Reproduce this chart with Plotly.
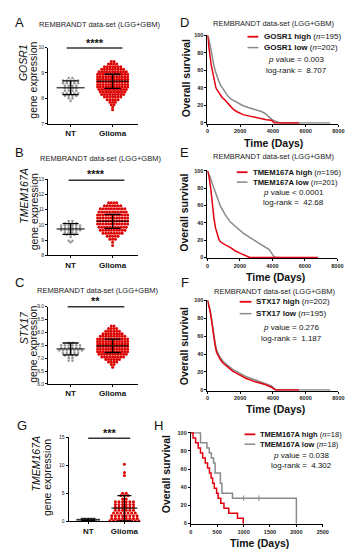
import plotly.graph_objects as go

W, H = 354, 550
FONT = "Liberation Sans, Arial, sans-serif"
RED_LINE = "#e3000f"
GREY_LINE = "#8a8a8a"
DOT_RED = "#dc0000"
DOT_GREY = "#9a9a9a"

categories = ["NT", "Glioma"]
TITLE = "REMBRANDT data-set (LGG+GBM)"

A_nt_levels = [7.9, 8.0, 8.1, 8.2, 8.3, 8.4, 8.5, 8.6, 8.7, 8.8]
A_nt_counts = [1, 2, 4, 5, 4, 4, 4, 5, 5, 2]
A_gl_levels = [7.55, 7.65, 7.75, 7.85, 7.95, 8.05, 8.15, 8.25, 8.35, 8.45,
               8.55, 8.65, 8.75, 8.85, 8.95, 9.05, 9.15, 9.25, 9.35, 9.45]
A_gl_counts = [1, 1, 2, 3, 5, 7, 9, 10, 11, 12, 12, 12, 12, 12, 12, 11, 9, 7, 4, 2]
A_mean = [8.42, 8.67]
A_sd = [0.27, 0.28]

B_nt_levels = [8.85, 8.95, 9.2, 9.35, 9.5, 9.65, 9.8, 9.95, 10.1, 10.25]
B_nt_counts = [1, 2, 1, 3, 4, 6, 6, 6, 4, 2]
B_gl_levels = [8.65, 8.85, 9.05, 9.25, 9.45, 9.65, 9.85, 10.05, 10.25, 10.45,
               10.65, 10.85, 11.05, 11.25, 11.45]
B_gl_counts = [1, 1, 3, 5, 8, 10, 11, 12, 12, 12, 12, 11, 10, 7, 4]
B_mean = [9.73, 10.23]
B_sd = [0.35, 0.46]

C_nt_levels = [6.9, 7.0, 7.1, 7.2, 7.3, 7.4, 7.5, 7.6]
C_nt_counts = [2, 2, 4, 5, 7, 6, 6, 2]
C_gl_levels = [6.65, 6.75, 6.85, 6.95, 7.05, 7.15, 7.25, 7.35, 7.45, 7.55,
               7.65, 7.75, 7.85, 7.95, 8.05, 8.15, 8.25]
C_gl_counts = [1, 2, 4, 6, 9, 11, 12, 12, 12, 12, 12, 12, 10, 8, 6, 4, 2]
C_mean = [7.36, 7.48]
C_sd = [0.23, 0.26]

G_nt_levels = [0.1, 0.3, 0.5]
G_nt_counts = [6, 8, 5]
G_gl_levels = [0.1, 0.5, 1.0, 1.5, 2.0, 2.5, 3.0, 3.5, 4.0, 4.6, 5.0, 8.2, 8.7, 10.2]
G_gl_counts = [9, 8, 8, 7, 6, 6, 6, 6, 2, 3, 2, 1, 1, 1]
G_mean = [0.3, 2.35]
G_sd = [0.15, 2.25]

# ---------------- Kaplan-Meier curves (days, % survival)
D_high_t = [0, 60, 120, 160, 240, 320, 400, 465, 520, 565, 650, 770, 900, 1070, 1200,
            1370, 1550, 1780, 2000, 2180, 2500, 2790, 3290, 3600, 3900, 4000, 4100, 5600]
D_high_s = [100, 93, 83, 76, 65, 57, 49, 43, 40, 38.5, 36, 32, 29, 26, 23,
            19, 16, 13, 11, 9.4, 8, 6.8, 4.5, 3.5, 3, 1, 0, 0]
D_low_t = [0, 80, 162, 240, 323, 400, 465, 560, 667, 800, 970, 1100, 1273, 1450, 1677,
           1900, 2180, 2500, 2790, 3000, 3290, 3500, 3700, 3850, 4000, 4200, 4400, 4450, 7500]
D_low_s = [100, 96, 89, 80, 72, 65, 60, 54, 49, 43, 38, 34, 30, 27, 24.5,
           22, 19.6, 17.5, 16, 15, 13, 11, 8, 5.5, 3, 1.5, 0.5, 0, 0]

E_high_t = [0, 100, 200, 300, 400, 500, 600, 700, 800, 950, 1100, 1400, 1700, 2000,
            2300, 2500, 2600, 6800]
E_high_s = [100, 93, 80, 60, 45, 34, 26, 21, 18, 16, 14.5, 11.5, 7.7, 5, 2.3, 0.8, 0, 0]
E_low_t = [0, 100, 200, 300, 400, 600, 800, 1100, 1400, 1800, 2200, 2600, 3000, 3400,
           3800, 3950, 4000, 4100, 4200, 4500]
E_low_s = [100, 96, 91, 85, 80, 68, 59, 49, 41, 34.5, 28, 23, 18, 14, 9, 5, 3, 0.8, 0, 0]

F_high_t = [0, 80, 158, 257, 356, 455, 553, 650, 750, 949, 1245, 1541, 1937, 2332,
            2925, 3518, 3913, 4050, 4150, 5600]
F_high_s = [100, 95, 88, 77, 62, 51, 42, 38, 35, 30, 25, 21, 17, 13, 9, 6, 3, 0.7, 0, 0]
F_low_t = [0, 80, 158, 257, 356, 455, 553, 650, 750, 949, 1245, 1541, 1937, 2332,
           2925, 3518, 3913, 4110, 4200, 7500]
F_low_s = [100, 96, 90, 79, 65, 54, 45, 40, 37, 32, 27, 23, 19, 15, 11, 7.5, 4.5, 1, 0, 0]

H_high_t = [0, 43, 91, 140, 183, 225, 274, 317, 353, 384, 414, 445, 488, 518, 567,
            628, 719, 884, 993]
H_high_s = [100, 94.4, 88.9, 83.3, 77.8, 72.2, 66.7, 61.1, 55.6, 50.0, 44.4, 38.9,
            33.3, 27.8, 22.2, 16.7, 11.1, 5.6, 0]
H_low_t = [0, 183, 305, 350, 390, 430, 460, 560, 590, 790, 2000]
H_low_s = [100, 88.9, 83.3, 77.8, 72.2, 66.7, 55.6, 44.4, 33.3, 27.8, 0]
H_low_censor_t = [1000, 1290]
H_low_censor_s = [27.8, 27.8]

fig = go.Figure()
axes = {}
annotations = []
shapes = []


def ax_names(i):
    return ("x" if i == 1 else f"x{i}"), ("y" if i == 1 else f"y{i}")


def add_axes(i, x0, x1, ytop, ybot, xr, yr, xkw, ykw):
    xn, yn = ax_names(i)
    base = dict(showline=True, linecolor="black", linewidth=1, ticks="outside",
                ticklen=2, tickwidth=1, tickcolor="black", showgrid=False,
                zeroline=False, fixedrange=True)
    xa = dict(base, domain=[x0 / W, x1 / W], range=xr, anchor=yn)
    xa.update(xkw)
    ya = dict(base, domain=[1 - ybot / H, 1 - ytop / H], range=yr, anchor=xn)
    ya.update(ykw)
    axes["xaxis" if i == 1 else f"xaxis{i}"] = xa
    axes["yaxis" if i == 1 else f"yaxis{i}"] = ya


def ann(text, x, y, size, color="#111", xanchor="center", angle=0, **kw):
    annotations.append(dict(text=text, x=x / W, y=1 - y / H, xref="paper", yref="paper",
                            showarrow=False, xanchor=xanchor, yanchor="middle",
                            textangle=angle, font=dict(size=size, color=color, family=FONT),
                            **kw))


def hline(x0, x1, y, color="black", width=1.2):
    shapes.append(dict(type="line", xref="paper", yref="paper", x0=x0 / W, x1=x1 / W,
                       y0=1 - y / H, y1=1 - y / H, line=dict(color=color, width=width)))


def swarm(levels, counts, center, dx):
    xs, ys = [], []
    for lv, n in zip(levels, counts):
        for j in range(n):
            xs.append(center + (j - (n - 1) / 2) * dx)
            ys.append(lv)
    return xs, ys


def dot_panel(i, nt_lv, nt_ct, gl_lv, gl_ct, means, sds, dx_nt, dx_gl, mean_len, cap):
    xn, yn = ax_names(i)
    x, y = swarm(nt_lv, nt_ct, 0, dx_nt)
    fig.add_trace(go.Scatter(x=x, y=y, mode="markers", xaxis=xn, yaxis=yn, cliponaxis=False,
                             marker=dict(size=2.6, color=DOT_GREY), hoverinfo="skip"))
    x, y = swarm(gl_lv, gl_ct, 1, dx_gl)
    fig.add_trace(go.Scatter(x=x, y=y, mode="markers", xaxis=xn, yaxis=yn, cliponaxis=False,
                             marker=dict(size=3.0, color=DOT_RED), hoverinfo="skip"))
    # line-ew symbol length is 1.4 x marker size
    fig.add_trace(go.Scatter(x=[0, 1], y=means, mode="markers", xaxis=xn, yaxis=yn,
                             cliponaxis=False,
                             marker=dict(symbol="line-ew", size=[m / 1.4 for m in mean_len],
                                         color="black", line=dict(width=1.5, color="black")),
                             error_y=dict(type="data", array=sds, visible=True, color="black",
                                          thickness=1.3, width=cap),
                             hoverinfo="skip"))


def km_panel(i, curves):
    xn, yn = ax_names(i)
    for t, s, col, shape in curves:
        fig.add_trace(go.Scatter(x=t, y=s, mode="lines", xaxis=xn, yaxis=yn,
                                 line=dict(color=col, width=1.5, shape=shape),
                                 hoverinfo="skip"))


tickfont_small = dict(size=5, color="#222", family=FONT)
tickfont_km = dict(size=5.5, color="#222", family=FONT, weight="bold")
cat_font = dict(size=8, color="#111", family=FONT, weight="bold")

# ---- dot plot axes
dot_x = dict(tickvals=[0, 1], ticktext=categories, tickfont=cat_font)
add_axes(1, 39, 131, 37, 114, [-0.535, 1.605], [7, 10], dot_x,
         dict(tickvals=[7, 8, 9, 10], tickfont=tickfont_small))
add_axes(2, 39, 131, 170, 247, [-0.535, 1.605], [8, 13], dot_x,
         dict(tickvals=[8, 9, 10, 11, 12, 13], tickfont=tickfont_small))
add_axes(3, 39, 131, 299, 377, [-0.535, 1.605], [6, 9], dot_x,
         dict(tickvals=[6, 6.5, 7, 7.5, 8, 8.5, 9], ticktext=["6.0", "6.5", "7.0", "7.5", "8.0", "8.5", "9.0"],
              tickfont=tickfont_small))
add_axes(4, 60, 133, 431, 516, [-0.54, 1.43], [0, 15], dot_x,
         dict(tickvals=[0, 5, 10, 15], tickfont=tickfont_small))

dot_panel(1, A_nt_levels, A_nt_counts, A_gl_levels, A_gl_counts, A_mean, A_sd, 0.09, 0.065, [28, 32], 8)
dot_panel(2, B_nt_levels, B_nt_counts, B_gl_levels, B_gl_counts, B_mean, B_sd, 0.09, 0.065, [28, 32], 8)
dot_panel(3, C_nt_levels, C_nt_counts, C_gl_levels, C_gl_counts, C_mean, C_sd, 0.09, 0.065, [28, 32], 8)
dot_panel(4, G_nt_levels, G_nt_counts, G_gl_levels, G_gl_counts, G_mean, G_sd, 0.085, 0.1, [23, 26], 7)

# ---- KM axes
km_y = dict(tickvals=[0, 20, 40, 60, 80, 100], tickfont=tickfont_km)
km_x8 = dict(tickvals=[0, 2000, 4000, 6000, 8000], tickfont=tickfont_km)
add_axes(5, 202, 336, 24, 114, [0, 8000], [-1, 100.5], km_x8, km_y)
add_axes(6, 202, 335, 161, 250, [0, 8000], [-1, 100.5], km_x8, km_y)
add_axes(7, 202, 336, 292, 384, [0, 8000], [-1, 100.5], km_x8, km_y)
add_axes(8, 185, 320, 426, 519, [0, 2500], [-1, 100.5],
         dict(tickvals=[0, 500, 1000, 1500, 2000, 2500], tickfont=tickfont_km), km_y)

km_panel(5, [(D_low_t, D_low_s, GREY_LINE, "linear"), (D_high_t, D_high_s, RED_LINE, "linear")])
km_panel(6, [(E_low_t, E_low_s, GREY_LINE, "linear"), (E_high_t, E_high_s, RED_LINE, "linear")])
km_panel(7, [(F_low_t, F_low_s, GREY_LINE, "linear"), (F_high_t, F_high_s, RED_LINE, "linear")])
km_panel(8, [(H_low_t, H_low_s, GREY_LINE, "hv"), (H_high_t, H_high_s, RED_LINE, "hv")])
fig.add_trace(go.Scatter(x=H_low_censor_t, y=H_low_censor_s, mode="markers", xaxis="x8", yaxis="y8",
                         marker=dict(symbol="line-ns", size=4, line=dict(width=1, color=GREY_LINE)),
                         hoverinfo="skip"))

# ---- panel letters
for letter, x, y in [("A", 10, 12), ("B", 10, 143), ("C", 10, 274), ("D", 179, 12),
                     ("E", 179, 143), ("F", 179, 274), ("G", 12, 419), ("H", 152, 419)]:
    ann(letter, x, y, 13, color="#111")

# ---- titles
for x, y in [(92, 14), (93, 149), (90, 283), (270, 13), (270, 147), (271, 284)]:
    ann(TITLE, x, y, 7.5, color="#222")

# ---- dot plot y titles
for gene, xg, yg, xe, ye in [("GOSR1", 14, 52, 24, 70), ("TMEM167A", 14, 187, 24, 203),
                             ("STX17", 14, 320, 24, 337), ("TMEM167A", 27, 458, 38, 472)]:
    ann(f"<i>{gene}</i>", xg, yg, 10.5, angle=-90)
    ann("gene expression", xe, ye, 10.5, angle=-90)

# ---- significance bars
for stars, xs, ys, x0, x1, yl in [("****", 87, 32, 58, 115, 37.5), ("****", 88, 165, 60, 117, 171),
                                   ("**", 87, 293, 59, 117, 299), ("***", 102, 427, 80, 123, 432)]:
    ann(f"<b>{stars}</b>", xs, ys, 11)
    hline(x0, x1, yl, color="#333", width=1.5)

# ---- KM labels
for x, y in [(180, 68), (178, 204), (178, 339), (160, 468)]:
    ann("<b>Overall survival</b>", x, y, 10.5, angle=-90)
for x, y in [(270, 133), (272, 269), (272, 402), (255, 538)]:
    ann("<b>Time (Days)</b>", x, y, 10.5)

# ---- KM legends
legends = [
    ("GOSR1", "195", "202", 243, 254, 258, 26, 37, 293, 49, 60, "= 0.003", "8.707", 8),
    ("TMEM167A", "196", "201", 232, 243, 247, 163, 173, 290, 184, 194, "< 0.0001", "42.68", 7.7),
    ("STX17", "202", "195", 235, 247, 250, 294, 306, 288, 320, 331, "= 0.276", "1.187", 8),
    ("TMEM167A", "18", "18", 240, 251, 254, 428, 438, 298, 449, 460, "= 0.038", "4.302", 7.5),
]
for gene, nh, nl, lx0, lx1, tx, yh, yl, pcx, py, ly, pv, lr, fs in legends:
    hline(lx0, lx1, yh, color=RED_LINE, width=1.8)
    hline(lx0, lx1, yl, color=GREY_LINE, width=1.5)
    ann(f"<b>{gene} high</b> (<i>n</i>={nh})", tx, yh, fs, xanchor="left")
    ann(f"<b>{gene} low</b> (<i>n</i>={nl})", tx, yl, fs, xanchor="left")
    ann(f"<i>p</i> value {pv}", pcx, py, 8)
    ann(f"log-rank =  {lr}", pcx, ly, 8)

fig.update_layout(width=W, height=H, margin=dict(l=0, r=0, t=0, b=0),
                  paper_bgcolor="white", plot_bgcolor="white", showlegend=False,
                  font=dict(family=FONT, color="#111"),
                  annotations=annotations, shapes=shapes, **axes)

fig.write_html("out.html")
